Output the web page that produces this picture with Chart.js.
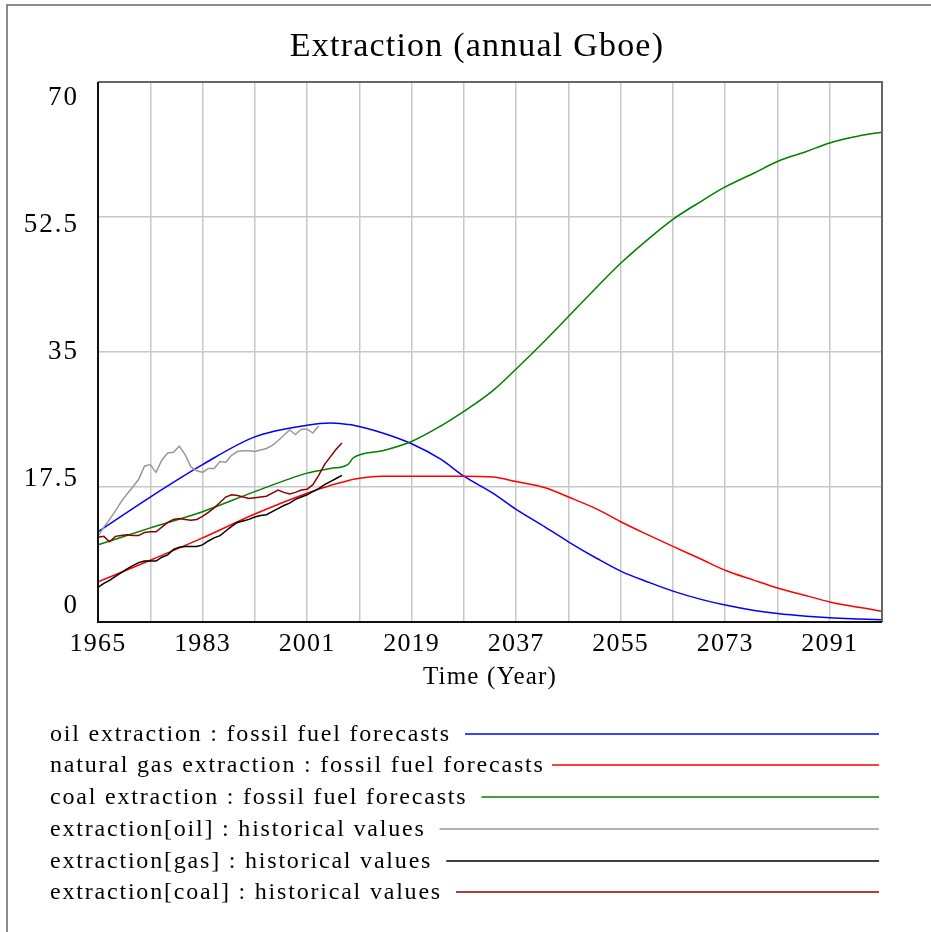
<!DOCTYPE html>
<html>
<head>
<meta charset="utf-8">
<script src="https://cdn.jsdelivr.net/npm/chart.js@4"></script>
<style>
  html, body { margin: 0; padding: 0; background: #fff; }
  #wrap { width: 931px; height: 932px; }
</style>
</head>
<body>
<div id="wrap"><canvas id="mainChart" width="931" height="932"></canvas></div>
<script>
// Model forecasts
const forecastYears = [1965, 1974, 1983, 1992, 2001, 2005, 2008, 2009, 2014, 2019, 2024, 2028, 2033, 2037,
  2042, 2046, 2051, 2055, 2060, 2064, 2069, 2073, 2078, 2082, 2087, 2091, 2096, 2100];
const oilForecast = [11.7, 16.2, 20.4, 24.0, 25.5, 25.8, 25.6, 25.5, 24.5, 23.1, 21.1, 18.9, 16.7, 14.6,
  12.3, 10.4, 8.2, 6.6, 5.1, 4.0, 2.9, 2.2, 1.5, 1.1, 0.75, 0.55, 0.4, 0.3];
const gasForecast = [5.2, 8.0, 10.9, 14.0, 16.7, 17.7, 18.3, 18.5, 18.9, 18.9, 18.9, 18.9, 18.8, 18.2,
  17.4, 16.2, 14.6, 13.0, 11.2, 9.8, 8.1, 6.7, 5.4, 4.4, 3.4, 2.6, 1.9, 1.4];
const coalForecast = [10.0, 12.2, 14.3, 16.9, 19.3, 19.9, 20.4, 21.3, 22.2, 23.4, 25.4, 27.3, 30.0, 32.8,
  36.5, 39.6, 43.5, 46.5, 49.8, 52.2, 54.6, 56.4, 58.2, 59.7, 61.0, 62.1, 63.0, 63.5];

// Historical values, annual
const histYears = [1965, 1966, 1967, 1968, 1969, 1970, 1971, 1972, 1973, 1974,
  1975, 1976, 1977, 1978, 1979, 1980, 1981, 1982, 1983, 1984,
  1985, 1986, 1987, 1988, 1989, 1990, 1991, 1992, 1993, 1994,
  1995, 1996, 1997, 1998, 1999, 2000, 2001, 2002, 2003, 2004,
  2005, 2006, 2007];
const oilHistorical = [11.1, 12.3, 13.3, 14.4, 15.6, 16.6, 17.5, 18.5, 20.2, 20.4,
  19.4, 21.0, 21.9, 22.0, 22.8, 21.7, 20.1, 19.6, 19.4, 19.9,
  19.9, 20.8, 20.7, 21.6, 22.1, 22.2, 22.2, 22.1, 22.3, 22.5,
  22.9, 23.5, 24.2, 24.9, 24.3, 25.0, 25.0, 24.5, 25.4];
const gasHistorical = [4.5, 5.0, 5.4, 5.9, 6.4, 6.9, 7.3, 7.7, 7.9, 7.9,
  7.9, 8.4, 8.7, 9.4, 9.7, 9.8, 9.8, 9.8, 10.0, 10.5,
  10.9, 11.2, 11.8, 12.4, 12.9, 13.1, 13.3, 13.6, 13.8, 13.9,
  14.3, 14.7, 15.1, 15.4, 15.9, 16.2, 16.5, 16.9, 17.3, 17.8,
  18.2, 18.6, 19.0];
const coalHistorical = [11.0, 11.1, 10.4, 11.1, 11.2, 11.3, 11.2, 11.2, 11.6, 11.7,
  11.7, 12.3, 12.9, 13.3, 13.4, 13.3, 13.2, 13.3, 13.7, 14.2,
  14.8, 15.5, 16.2, 16.5, 16.4, 16.2, 16.0, 16.1, 16.2, 16.3,
  16.7, 17.1, 16.8, 16.6, 16.8, 17.1, 17.2, 17.8, 19.0, 20.4,
  21.4, 22.4, 23.2];

const xTickLabels = [1965, 1983, 2001, 2019, 2037, 2055, 2073, 2091];
const yTickLabels = [0, 17.5, 35, 52.5, 70];
const seriesLabels = [
  'oil extraction : fossil fuel forecasts',
  'natural gas extraction : fossil fuel forecasts',
  'coal extraction : fossil fuel forecasts',
  'extraction[oil] : historical values',
  'extraction[gas] : historical values',
  'extraction[coal] : historical values'
];

const SERIF = '"Liberation Serif", "Times New Roman", serif';
const toPoints = (xs, ys) => ys.map((y, i) => ({ x: xs[i], y: y }));

function series(i, xs, ys, color, smooth) {
  return {
    label: seriesLabels[i],
    data: toPoints(xs, ys),
    borderColor: color,
    backgroundColor: color,
    borderWidth: 1.5,
    pointRadius: 0,
    fill: false,
    cubicInterpolationMode: smooth ? 'monotone' : 'default',
    order: 6 - i
  };
}

// Title, y labels, frame and Vensim-like legend
const decorations = {
  id: 'decorations',
  beforeDraw(chart) {
    // Vensim text is a bit spaced out; applies to the axis labels drawn by Chart.js
    chart.ctx.letterSpacing = '1.2px';
  },
  afterDraw(chart) {
    const { ctx, chartArea: a, scales } = chart;
    ctx.save();

    // outer frame (left and top only, as in the picture)
    ctx.strokeStyle = '#666';
    ctx.lineWidth = 1.5;
    ctx.beginPath();
    ctx.moveTo(7, 932);
    ctx.lineTo(7, 5);
    ctx.lineTo(931, 5);
    ctx.stroke();

    // plot frame
    ctx.lineWidth = 2;
    ctx.strokeStyle = '#666';
    ctx.beginPath();
    ctx.moveTo(a.left, a.top);
    ctx.lineTo(a.right, a.top);
    ctx.lineTo(a.right, a.bottom);
    ctx.stroke();
    ctx.strokeStyle = '#111';
    ctx.beginPath();
    ctx.moveTo(a.left, a.top);
    ctx.lineTo(a.left, a.bottom);
    ctx.lineTo(a.right, a.bottom);
    ctx.stroke();

    // title
    ctx.fillStyle = '#000';
    ctx.font = '34px ' + SERIF;
    ctx.letterSpacing = '1.2px';
    ctx.textAlign = 'center';
    ctx.textBaseline = 'middle';
    ctx.fillText('Extraction (annual Gboe)', 477, 47);

    // y labels, spread inside the axis range like Vensim does
    ctx.font = '27px ' + SERIF;
    ctx.letterSpacing = '2px';
    ctx.textAlign = 'right';
    const h = a.bottom - a.top;
    yTickLabels.forEach(v => {
      const py = scales.y.getPixelForValue(v);
      const y = a.top + 16 + (py - a.top) * (h - 32) / h;
      ctx.fillText(String(v), 79, y);
    });

    // legend
    ctx.font = '24px ' + SERIF;
    ctx.letterSpacing = '1.8px';
    ctx.textAlign = 'left';
    const rows = [734, 765, 797, 829, 861, 892];
    chart.data.datasets.forEach((ds, i) => {
      const y = rows[i];
      ctx.fillStyle = '#000';
      ctx.fillText(ds.label, 50, y + 1);
      const w = ctx.measureText(ds.label).width;
      ctx.strokeStyle = ds.borderColor;
      ctx.lineWidth = 1.5;
      ctx.beginPath();
      ctx.moveTo(Math.min(50 + w + 14, 552), y);
      ctx.lineTo(879, y);
      ctx.stroke();
    });
    ctx.restore();
    ctx.letterSpacing = '0px';
  }
};

new Chart(document.getElementById('mainChart'), {
  type: 'line',
  data: {
    datasets: [
      series(0, forecastYears, oilForecast, '#0000ff', true),
      series(1, forecastYears, gasForecast, '#ff0000', true),
      series(2, forecastYears, coalForecast, '#008000', true),
      series(3, histYears, oilHistorical, '#999999', false),
      series(4, histYears, gasHistorical, '#000000', false),
      series(5, histYears, coalHistorical, '#8b0000', false)
    ]
  },
  options: {
    responsive: false,
    animation: false,
    devicePixelRatio: 1,
    layout: { padding: { left: 98, right: 49, top: 82, bottom: 240 } },
    plugins: {
      legend: { display: false },
      tooltip: { enabled: false }
    },
    scales: {
      x: {
        type: 'linear',
        min: 1965,
        max: 2100,
        afterFit: s => { s.height = 70; },
        ticks: {
          stepSize: 9,
          autoSkip: false,
          maxRotation: 0,
          padding: 7,
          color: '#000',
          font: { family: SERIF, size: 26 },
          callback: v => xTickLabels.includes(v) ? String(v) : ''
        },
        grid: { color: '#c8c8c8', lineWidth: 1.5, drawTicks: false },
        border: { display: false },
        title: {
          display: true,
          text: 'Time (Year)',
          color: '#000',
          font: { family: SERIF, size: 25 },
          padding: 0
        }
      },
      y: {
        min: 0,
        max: 70,
        ticks: { stepSize: 17.5, display: false },
        grid: { color: '#c8c8c8', lineWidth: 1.5, drawTicks: false },
        border: { display: false }
      }
    }
  },
  plugins: [decorations]
});
</script>
</body>
</html>
